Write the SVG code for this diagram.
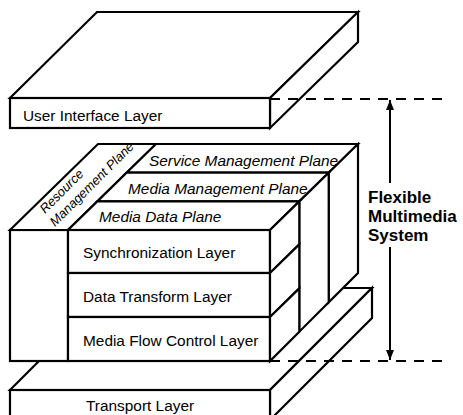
<svg xmlns="http://www.w3.org/2000/svg" width="463" height="415" viewBox="0 0 463 415">
<style>
.f{fill:#fff;stroke:#000;stroke-width:2.2;stroke-linejoin:miter}
.l{fill:none;stroke:#000;stroke-width:2}
.d{fill:none;stroke:#000;stroke-width:2.2;stroke-dasharray:10 8}
.t{font-family:"Liberation Sans",Arial,Helvetica,sans-serif;font-size:15.4px;fill:#000}
.i{font-style:italic}
.r{font-size:13px}
.b{font-weight:bold;font-size:17px}
</style>
<defs>
<marker id="ah" viewBox="0 0 10 10" refX="10" refY="5" markerWidth="5" markerHeight="5" orient="auto-start-reverse" markerUnits="strokeWidth">
<path d="M0,1 L10,5 L0,9 Z" fill="#000"/>
</marker>
</defs>

<g id="transport-layer">
<polygon class="f" points="10,390 112,288 372,288 270,390"/>
<polygon class="f" points="270,390 372,288 372,318 270,420"/>
<rect class="f" x="10" y="390" width="260" height="30"/>
<text class="t" x="86" y="411">Transport Layer</text>
</g>

<g id="main-block">
<polygon points="10,361 10,230 98,144 358,144 358,273 270,361" fill="#fff"/>

<g id="resource-plane">
<rect class="f" x="10" y="230" width="58" height="131"/>
<polygon class="f" points="10,230 98,144 156,144 68,230"/>
<text class="t i r" transform="translate(45,214) rotate(-45)">Resource</text>
<text class="t i r" transform="translate(55,227) rotate(-45)">Management Plane</text>
</g>

<g id="service-plane">
<polygon class="f" points="156,144 358,144 328.7,172.7 126.6,172.7"/>
<polygon class="f" points="328.7,172.7 358,144 358,273 328.7,302.3"/>
<text class="t i" x="149" y="166">Service Management Plane</text>
</g>

<g id="media-management-plane">
<polygon class="f" points="126.6,172.7 328.7,172.7 299.3,201.4 97.3,201.4"/>
<polygon class="f" points="299.3,201.4 328.7,172.7 328.7,302.3 299.3,331.7"/>
<text class="t i" x="128" y="194">Media Management Plane</text>
</g>

<g id="media-data-plane">
<polygon class="f" points="97.3,201.4 299.3,201.4 270,230 68,230"/>
<text class="t i" x="99" y="222">Media Data Plane</text>
</g>

<g id="synchronization-layer">
<rect class="f" x="68" y="230" width="202" height="43"/>
<polygon class="f" points="270,230 299.3,201.4 299.3,244.4 270,273"/>
<text class="t" x="83" y="258">Synchronization Layer</text>
</g>

<g id="data-transform-layer">
<rect class="f" x="68" y="273" width="202" height="44"/>
<polygon class="f" points="270,273 299.3,244.4 299.3,288.4 270,317"/>
<text class="t" x="83" y="302">Data Transform Layer</text>
</g>

<g id="media-flow-control-layer">
<rect class="f" x="68" y="317" width="202" height="44"/>
<polygon class="f" points="270,317 299.3,288.4 299.3,331.7 270,361"/>
<text class="t" x="83" y="346">Media Flow Control Layer</text>
</g>
</g>

<g id="user-interface-layer">
<polygon class="f" points="10,98 97,12 358,12 270,98"/>
<polygon class="f" points="270,98 358,12 358,42 270,128"/>
<rect class="f" x="10" y="98" width="260" height="30"/>
<text class="t" x="23" y="121">User Interface Layer</text>
</g>

<g id="connectors">
<line class="d" x1="270" y1="99" x2="446" y2="99"/>
<line class="d" x1="270" y1="361" x2="446" y2="361"/>
<line class="l" x1="390" y1="183" x2="390" y2="100" marker-end="url(#ah)"/>
<line class="l" x1="390" y1="247" x2="390" y2="360" marker-end="url(#ah)"/>
</g>

<g id="system-label">
<text class="t b" x="368" y="203">Flexible</text>
<text class="t b" x="368" y="222">Multimedia</text>
<text class="t b" x="368" y="241">System</text>
</g>
</svg>
